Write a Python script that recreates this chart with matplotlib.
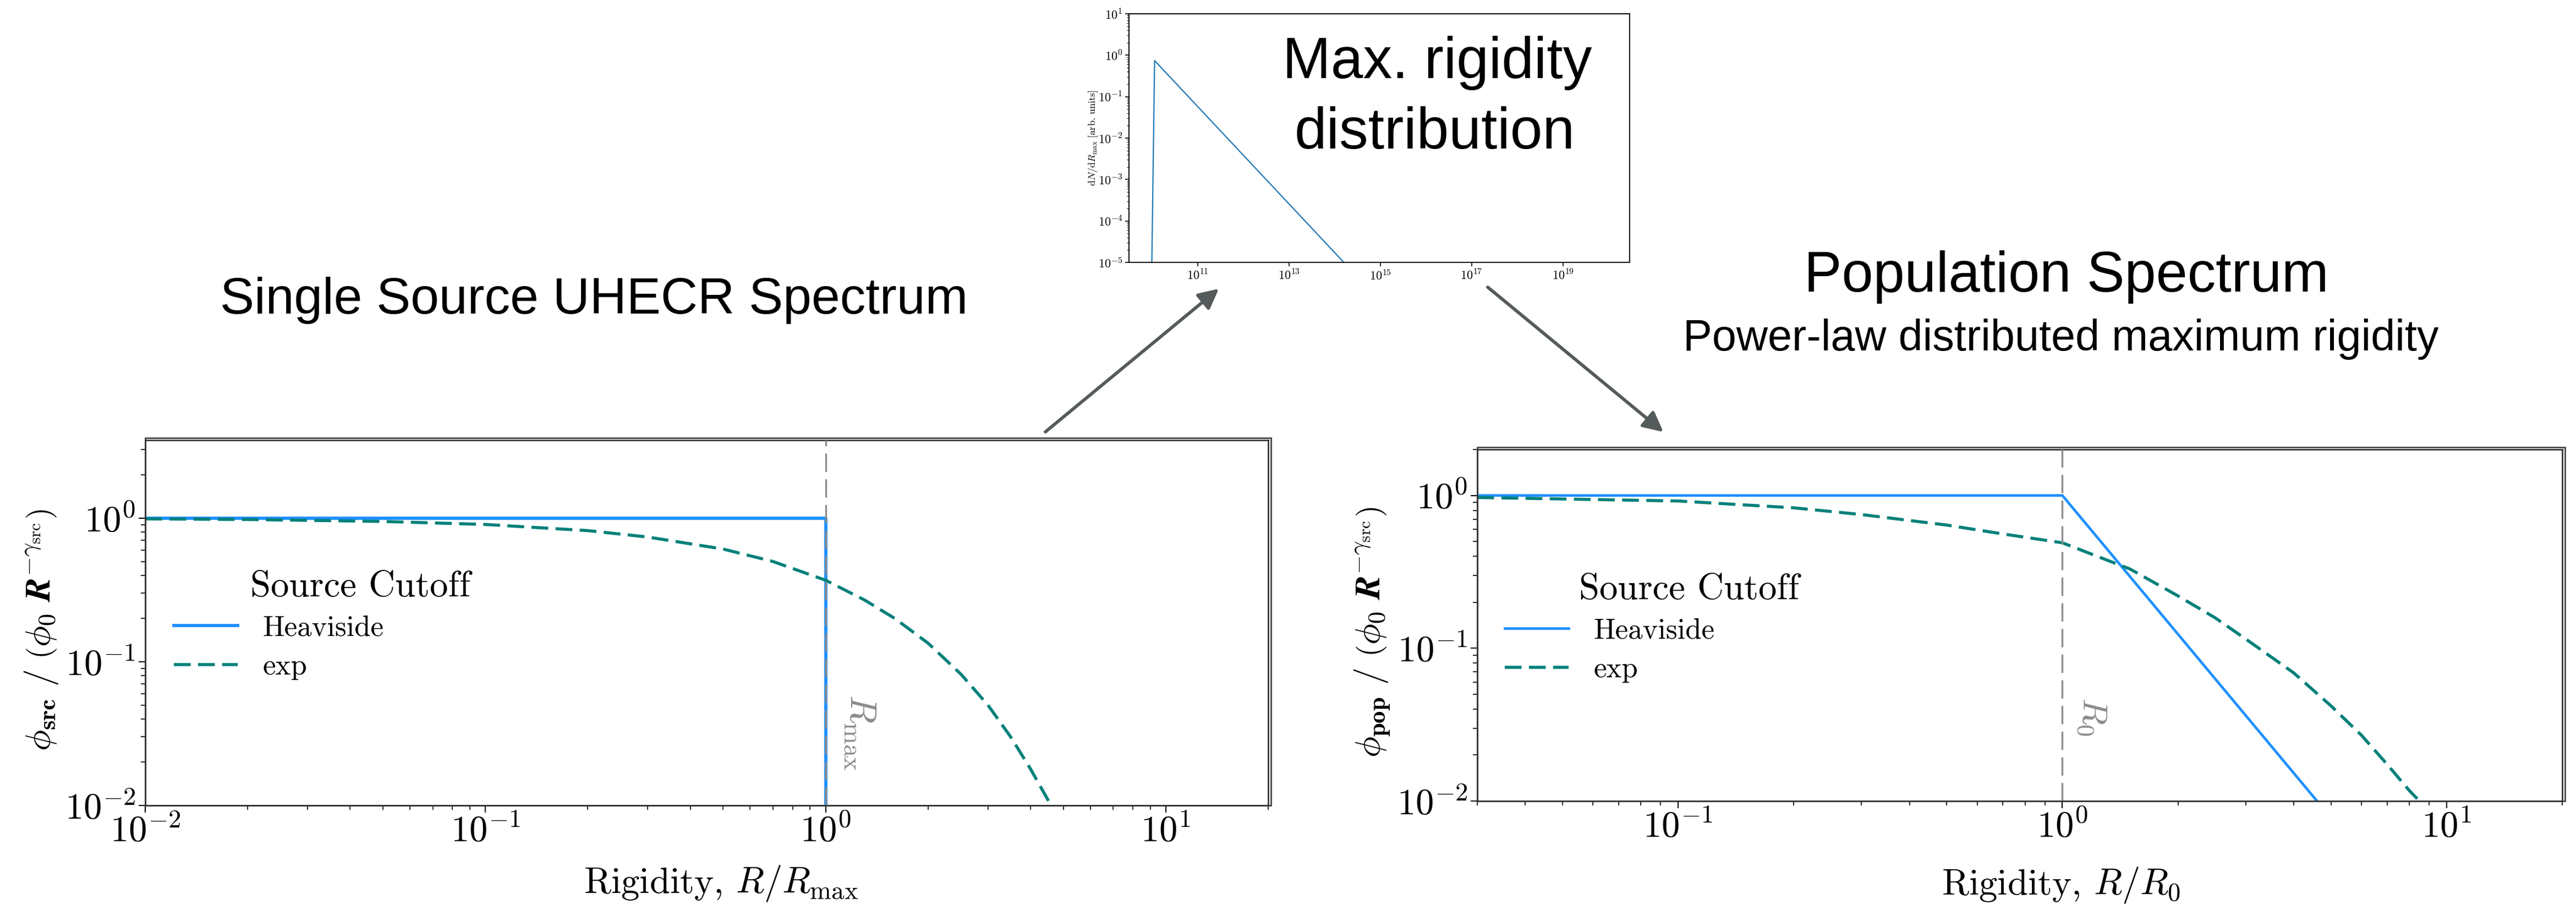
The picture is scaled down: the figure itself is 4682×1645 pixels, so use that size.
import numpy as np
import matplotlib.pyplot as plt
from matplotlib.patches import Rectangle
from matplotlib.ticker import LogLocator, FixedLocator, FuncFormatter, NullLocator

plt.rcParams['font.family'] = 'cmr10'
plt.rcParams['mathtext.fontset'] = 'cm'
plt.rcParams['axes.formatter.use_mathtext'] = True

# --- single source spectrum ---
src_heav_R = [0.01, 1.0, 1.0]
src_heav_phi = [1.0, 1.0, 1e-3]
src_exp_R = [0.01, 0.02, 0.05, 0.1, 0.2, 0.3, 0.5, 0.7, 1.0, 1.3, 1.6, 2.0, 2.5, 3.0, 3.5, 4.0, 4.6]
src_exp_phi = [0.99, 0.98, 0.95, 0.905, 0.82, 0.74, 0.61, 0.50, 0.37, 0.27, 0.20, 0.135, 0.082, 0.05, 0.03, 0.018, 0.01]

# --- population spectrum ---
pop_heav_R = [0.03, 1.0, 4.6]
pop_heav_phi = [1.0, 1.0, 0.01]
pop_exp_R = [0.03, 0.1, 0.2, 0.3, 0.5, 0.7, 1.0, 1.5, 2.0, 2.5, 3.0, 4.0, 5.0, 6.0, 7.0, 8.0, 8.5]
pop_exp_phi = [0.97, 0.92, 0.83, 0.75, 0.64, 0.56, 0.49, 0.33, 0.22, 0.158, 0.115, 0.069, 0.042, 0.027,
               0.0174, 0.0117, 0.01]

# --- inset: max rigidity distribution ---
rmax_R = [1.0e10, 1.15e10, 1.6e14]
rmax_dN = [1e-5, 0.74, 1e-5]
inset_xticks = [1e11, 1e13, 1e15, 1e17, 1e19]

W, H = 4682, 1645
fig = plt.figure(figsize=(W / 100, H / 100), dpi=100)


def px_axes(left, top, right, bottom):
    return fig.add_axes([left / W, 1 - bottom / H, (right - left) / W, (bottom - top) / H])


def pow10(v, pos):
    return r'$10^{%d}$' % int(round(np.log10(v)))


def style_main(ax):
    ax.set_xscale('log')
    ax.set_yscale('log')
    for s in ax.spines.values():
        s.set_linewidth(1.8)
        s.set_color('#222222')
    ax.tick_params(which='major', length=9, width=1.5, labelsize=48, direction='out')
    ax.tick_params(which='minor', length=6, width=1.2, direction='out')
    ax.xaxis.set_major_formatter(FuncFormatter(pow10))
    ax.yaxis.set_major_formatter(FuncFormatter(pow10))
    ax.yaxis.set_major_locator(LogLocator(base=10, numticks=10))


def outer_frame(left, top, right, bottom):
    fig.add_artist(Rectangle((left / W, 1 - bottom / H), (right + 5 - left) / W, (bottom - top + 4) / H,
                             transform=fig.transFigure, fill=False, lw=1.8, edgecolor='#333333'))


blue = '#1e90ff'
teal = '#00807a'
grey = '#8c8c8c'

# left panel
ax1 = px_axes(264, 800, 2305, 1464)
style_main(ax1)
ax1.plot(src_heav_R, src_heav_phi, color=blue, lw=4.2, label='Heaviside')
ax1.plot(src_exp_R, src_exp_phi, color=teal, lw=4.0, dashes=(5.5, 2.4), label='exp')
ax1.axvline(1.0, color=grey, lw=2.4, dashes=(10, 4), zorder=3)
ax1.set_xlim(0.01, 20)
ax1.set_ylim(0.01, 3.5)
ax1.set_xlabel(r'Rigidity, $R/R_{\mathrm{max}}$', fontsize=48)
ax1.xaxis.set_label_coords(0.513, -0.16)
ax1.set_ylabel(r'$\phi_{\mathbf{src}}\ /\ \left(\phi_0\ \boldsymbol{R}^{-\gamma_{\mathrm{src}}}\right)$', fontsize=46)
ax1.yaxis.set_label_coords(-0.076, 0.48)
ax1.text(0.0936, 0.572, 'Source Cutoff', transform=ax1.transAxes, fontsize=48, va='baseline')
ax1.legend(loc='upper left', bbox_to_anchor=(0.0255, 0.52), frameon=False, fontsize=38,
           borderpad=0, borderaxespad=0, handlelength=2.2, handletextpad=0.85, labelspacing=0.45)
ax1.text(0.636, 0.20, r'$R_{\mathrm{max}}$', transform=ax1.transAxes, rotation=-90,
         color=grey, fontsize=48, ha='center', va='center')
outer_frame(264, 800, 2305, 1464)

# right panel
ax2 = px_axes(2685, 817, 4657, 1456)
style_main(ax2)
ax2.plot(pop_heav_R, pop_heav_phi, color=blue, lw=3.4, label='Heaviside')
ax2.plot(pop_exp_R, pop_exp_phi, color=teal, lw=4.0, dashes=(5.5, 2.4), label='exp')
ax2.axvline(1.0, color=grey, lw=2.4, dashes=(10, 4), zorder=3)
ax2.set_xlim(0.03, 20)
ax2.set_ylim(0.01, 2)
ax2.set_xlabel(r'Rigidity, $R/R_0$', fontsize=48)
ax2.xaxis.set_label_coords(0.538, -0.183)
ax2.set_ylabel(r'$\phi_{\mathbf{pop}}\ /\ \left(\phi_0\ \boldsymbol{R}^{-\gamma_{\mathrm{src}}}\right)$', fontsize=46)
ax2.yaxis.set_label_coords(-0.078, 0.48)
ax2.text(0.094, 0.574, 'Source Cutoff', transform=ax2.transAxes, fontsize=48, va='baseline')
ax2.legend(loc='upper left', bbox_to_anchor=(0.0254, 0.52), frameon=False, fontsize=38,
           borderpad=0, borderaxespad=0, handlelength=2.2, handletextpad=0.85, labelspacing=0.45)
ax2.text(0.5655, 0.24, r'$R_0$', transform=ax2.transAxes, rotation=-90,
         color=grey, fontsize=46, ha='center', va='center')
outer_frame(2685, 817, 4657, 1456)

# inset
ax3 = px_axes(2052, 25, 2962, 477)
ax3.set_xscale('log')
ax3.set_yscale('log')
ax3.plot(rmax_R, rmax_dN, color='#1f77b4', lw=1.6)
ax3.set_xlim(10 ** 9.5, 10 ** 20.46)
ax3.set_ylim(1e-5, 10)
ax3.xaxis.set_major_locator(FixedLocator(inset_xticks))
ax3.xaxis.set_minor_locator(NullLocator())
ax3.xaxis.set_major_formatter(FuncFormatter(pow10))
ax3.yaxis.set_major_locator(LogLocator(base=10, numticks=10))
ax3.yaxis.set_minor_locator(LogLocator(base=10, subs=np.arange(2, 10), numticks=20))
ax3.yaxis.set_major_formatter(FuncFormatter(pow10))
ax3.tick_params(which='major', length=5, width=1.2, labelsize=16)
ax3.tick_params(which='minor', length=3, width=0.8)
for s in ax3.spines.values():
    s.set_linewidth(1.4)
ax3.set_ylabel(r'$\mathrm{d}N/\mathrm{d}R_{\mathrm{max}}$ [arb. units]', fontsize=13)
ax3.yaxis.set_label_coords(-0.059, 0.5)
fig.text(2612 / W, 1 - 142 / H, 'Max. rigidity', fontsize=76, family='Liberation Sans', ha='center', va='baseline')
fig.text(2608 / W, 1 - 270 / H, 'distribution', fontsize=76, family='Liberation Sans', ha='center', va='baseline')

# titles
fig.text(1080 / W, 1 - 570 / H, 'Single Source UHECR Spectrum', fontsize=67,
         family='Liberation Sans', ha='center', va='baseline')
fig.text(3756 / W, 1 - 530 / H, 'Population Spectrum', fontsize=74,
         family='Liberation Sans', ha='center', va='baseline')
fig.text(3746 / W, 1 - 637 / H, 'Power-law distributed maximum rigidity', fontsize=57,
         family='Liberation Sans', ha='center', va='baseline')

# arrows between panels
arrow = dict(arrowstyle='-|>', lw=4, color='#555b5b', mutation_scale=55, shrinkA=0, shrinkB=0)
fig.add_artist(plt.annotate('', xy=(2215, H - 525), xytext=(1900, H - 785),
                            xycoords='figure pixels', textcoords='figure pixels', arrowprops=arrow))
fig.add_artist(plt.annotate('', xy=(3023, H - 785), xytext=(2704, H - 522),
                            xycoords='figure pixels', textcoords='figure pixels', arrowprops=arrow))

fig.savefig('out.png', dpi=100)
